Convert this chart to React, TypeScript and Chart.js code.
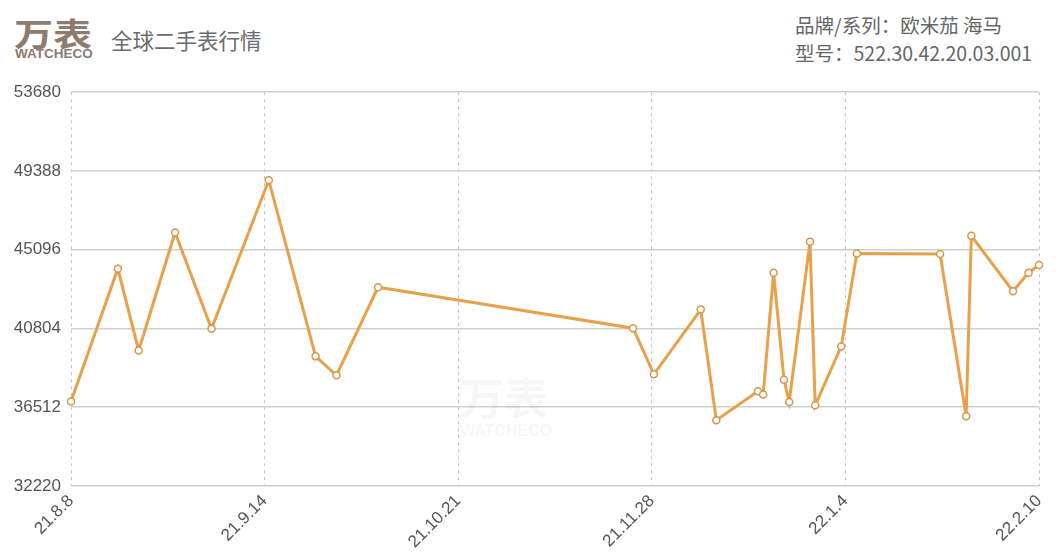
import React, { useEffect, useRef } from "react";
import { Chart, registerables } from "chart.js";

Chart.register(...registerables);

const startDate = "2021-08-08";
const tickDays = [0, 37.2, 74.4, 111.6, 148.8, 186];
const tickLabels = ["21.8.8", "21.9.14", "21.10.21", "21.11.28", "22.1.4", "22.2.10"];
const dates = [
  "2021-08-08", "2021-08-17", "2021-08-21", "2021-08-28", "2021-09-04", "2021-09-15",
  "2021-09-24", "2021-09-28", "2021-10-06", "2021-11-24", "2021-11-28", "2021-12-07",
  "2021-12-10", "2021-12-18", "2021-12-19", "2021-12-21", "2021-12-23", "2021-12-24",
  "2021-12-28", "2021-12-29", "2022-01-03", "2022-01-06", "2022-01-22", "2022-01-27",
  "2022-01-28", "2022-02-05", "2022-02-08", "2022-02-10",
];
const prices = [
  36830, 44064, 39609, 46035, 40790, 48883,
  39284, 38252, 43049, 40820, 38306, 41836,
  35806, 37381, 37202, 43847, 38016, 36800,
  45530, 36620, 39827, 44895, 44862, 36023,
  45856, 42832, 43847, 44265,
];
const yMin = 32220;
const yMax = 53680;
const yStep = 4292;

const DAY = 86400000;
const dayOffset = (d: string) => Math.round((Date.parse(d) - Date.parse(startDate)) / DAY);

export default function App() {
  const ref = useRef<HTMLCanvasElement>(null);
  useEffect(() => {
    if (!ref.current) return;
    const font = "'Liberation Sans', Arial, sans-serif";
    const chart = new Chart(ref.current, {
      type: "line",
      data: {
        datasets: [
          {
            data: dates.map((d, i) => ({ x: dayOffset(d), y: prices[i] })),
            borderColor: "#E7A14A",
            borderWidth: 3,
            pointRadius: 3.5,
            pointBorderWidth: 1.5,
            pointBackgroundColor: "#ffffff",
            pointBorderColor: "#D9954A",
            tension: 0,
            clip: false,
          },
        ],
      },
      options: {
        animation: false,
        responsive: false,
        maintainAspectRatio: false,
        layout: { padding: { top: 0, right: 24, left: 0, bottom: 0 } },
        plugins: { legend: { display: false }, tooltip: { enabled: false } },
        scales: {
          x: {
            type: "linear",
            min: 0,
            max: 186,
            afterBuildTicks: (axis: any) => {
              axis.ticks = tickDays.map((v) => ({ value: v }));
            },
            afterFit: (axis: any) => {
              axis.height = 67;
            },
            ticks: {
              autoSkip: false,
              maxRotation: 45,
              minRotation: 45,
              padding: 5,
              color: "#555",
              font: { size: 17, family: font },
              callback: (_v: any, i: number) => tickLabels[i],
            },
            grid: {
              color: "#c4c4c4",
              lineWidth: 1,
              drawTicks: false,
            },
            border: { display: false, dash: [3, 4] },
          },
          y: {
            min: yMin,
            max: yMax,
            afterBuildTicks: (axis: any) => {
              const t = [];
              for (let v = yMin; v <= yMax; v += yStep) t.push({ value: v });
              axis.ticks = t;
            },
            afterFit: (axis: any) => {
              axis.width = 71;
            },
            ticks: {
              padding: 10,
              color: "#555",
              font: { size: 17, family: font },
              callback: (v: any) => String(v),
            },
            grid: { color: "#cfcfcf", lineWidth: 1.5, drawTicks: false },
            border: { display: false },
          },
        },
      },
    });
    return () => chart.destroy();
  }, []);

  const textFont = "'Noto Sans CJK SC', 'Liberation Sans', sans-serif";
  return (
    <div
      style={{
        position: "absolute",
        left: 0,
        top: 0,
        width: 1063,
        height: 553,
        background: "#fff",
        overflow: "hidden",
        fontFamily: textFont,
      }}
    >
      <canvas ref={ref} width={1063} height={481} style={{ position: "absolute", left: 0, top: 72 }} />
      <div style={{ position: "absolute", left: 14, top: 16, fontSize: 32, fontWeight: 700, color: "#8d7b6e", lineHeight: "32px", letterSpacing: 0, transform: "scaleX(1.22)", transformOrigin: "left top", whiteSpace: "nowrap" }}>
        万表
      </div>
      <div style={{ position: "absolute", left: 15, top: 47, fontSize: 13.5, fontWeight: 700, color: "#8d7b6e", lineHeight: "14px", fontFamily: "'Liberation Sans', Arial, sans-serif", whiteSpace: "nowrap" }}>
        WATCHECO
      </div>
      <div style={{ position: "absolute", left: 111, top: 25, fontSize: 21.5, color: "#6b6b6b", lineHeight: "30px" }}>
        全球二手表行情
      </div>
      <div style={{ position: "absolute", left: 795, top: 11, fontSize: 19.5, color: "#666", lineHeight: "28px", whiteSpace: "nowrap" }}>
        品牌/系列：欧米茄 海马
      </div>
      <div style={{ position: "absolute", left: 795, top: 39, fontSize: 19.5, color: "#666", lineHeight: "28px", whiteSpace: "nowrap" }}>
        型号：522.30.42.20.03.001
      </div>
      <div style={{ position: "absolute", left: 460, top: 372, fontSize: 44, fontWeight: 700, color: "rgba(0,0,0,0.035)", lineHeight: "48px" }}>
        万表
      </div>
      <div style={{ position: "absolute", left: 460, top: 422, fontSize: 16, fontWeight: 700, color: "rgba(0,0,0,0.035)", fontFamily: "'Liberation Sans', Arial, sans-serif" }}>
        WATCHECO
      </div>
    </div>
  );
}
